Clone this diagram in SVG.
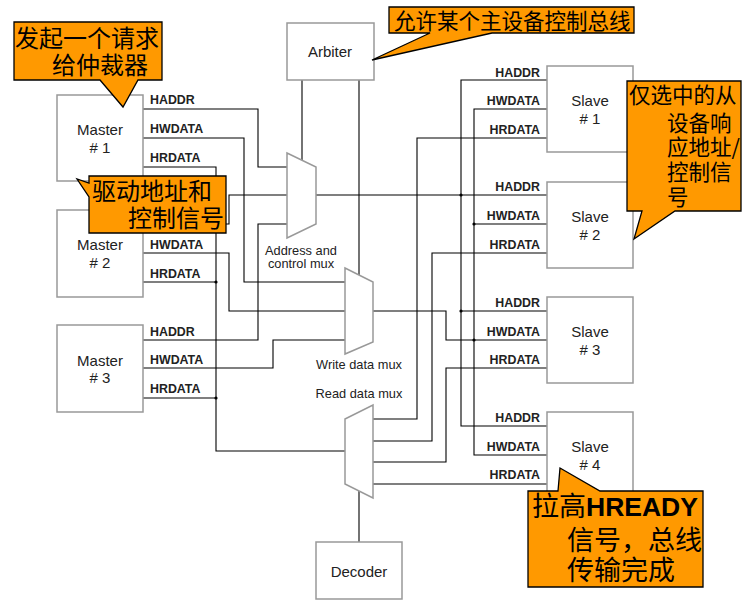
<svg xmlns="http://www.w3.org/2000/svg" width="752" height="615" viewBox="0 0 752 615">
<style>
.box{fill:#fff;stroke:#999;stroke-width:1.5}
.mux{fill:#fff;stroke:#999;stroke-width:1.5}
.w{fill:none;stroke:#000;stroke-width:1.1}
.lbl{font-family:"Liberation Sans",Arial,sans-serif;font-size:15px;fill:#222;text-anchor:middle}
.sig{font-family:"Liberation Sans",Arial,sans-serif;font-size:12.4px;font-weight:bold;fill:#222}
.sr{text-anchor:end}
.mx{font-family:"Liberation Sans",Arial,sans-serif;font-size:12.8px;fill:#222;text-anchor:middle}
.co{fill:#ff9900;stroke:#000;stroke-width:1.3}
.ct{font-family:"Noto Sans CJK SC",sans-serif;fill:#000}
</style>
<rect width="752" height="615" fill="#fff"/>
<g id="connectors">
<polyline class="w" points="143,109 258,109 258,167 287,167"/>
<polyline class="w" points="143,138 244,138 244,282 345,282"/>
<polyline class="w" points="143,167 216,167 216,451 345,451"/>
<polyline class="w" points="143,224 229,224 229,195 287,195"/>
<polyline class="w" points="143,253 229,253 229,311 345,311"/>
<line class="w" x1="143" y1="282" x2="216" y2="282"/>
<polyline class="w" points="143,340 258,340 258,224 287,224"/>
<polyline class="w" points="143,368 273,368 273,340 345,340"/>
<line class="w" x1="143" y1="398" x2="216" y2="398"/>
<line class="w" x1="302" y1="80" x2="302" y2="160"/>
<line class="w" x1="359" y1="80" x2="359" y2="275"/>
<line class="w" x1="316" y1="195" x2="547" y2="195"/>
<polyline class="w" points="373,311 446,311 446,340 547,340"/>
<line class="w" x1="359" y1="491" x2="359" y2="542"/>
<polyline class="w" points="547,138 417,138 417,419 373,419"/>
<polyline class="w" points="547,253 432,253 432,441 373,441"/>
<polyline class="w" points="547,368 446,368 446,462 373,462"/>
<line class="w" x1="373" y1="484" x2="547" y2="484"/>
<polyline class="w" points="547,80 461,80 461,426 547,426"/>
<line class="w" x1="461" y1="311" x2="547" y2="311"/>
<polyline class="w" points="547,109 474,109 474,455 547,455"/>
<line class="w" x1="474" y1="224" x2="547" y2="224"/>
<g fill="#000">
<circle cx="216" cy="282" r="1.6"/><circle cx="216" cy="398" r="1.6"/>
<circle cx="461" cy="195" r="1.6"/><circle cx="461" cy="311" r="1.6"/>
<circle cx="474" cy="224" r="1.6"/><circle cx="474" cy="340" r="1.6"/>
</g>
</g>
<g id="master1"><rect class="box" x="57" y="95" width="86" height="86"/><text class="lbl" x="100" y="135">Master</text><text class="lbl" x="100" y="153"># 1</text>
<text class="sig" x="150" y="104">HADDR</text><text class="sig" x="150" y="133">HWDATA</text><text class="sig" x="150" y="162">HRDATA</text></g>
<g id="master2"><rect class="box" x="57" y="210" width="86" height="87"/><text class="lbl" x="100" y="250">Master</text><text class="lbl" x="100" y="268"># 2</text>
<text class="sig" x="150" y="249">HWDATA</text><text class="sig" x="150" y="278">HRDATA</text></g>
<g id="master3"><rect class="box" x="57" y="325" width="86" height="87"/><text class="lbl" x="100" y="366">Master</text><text class="lbl" x="100" y="383"># 3</text>
<text class="sig" x="150" y="336">HADDR</text><text class="sig" x="150" y="364">HWDATA</text><text class="sig" x="150" y="393">HRDATA</text></g>
<g id="arbiter"><rect class="box" x="287" y="23" width="87" height="57"/><text class="lbl" x="330" y="57">Arbiter</text></g>
<g id="addrmux"><polygon class="mux" points="287,153 316,167 316,224 287,238"/><text class="mx" x="301" y="255">Address and</text><text class="mx" x="301" y="268">control mux</text></g>
<g id="wmux"><polygon class="mux" points="345,268 373,282 373,342 345,354"/><text class="mx" x="359" y="369">Write data mux</text></g>
<g id="rmux"><polygon class="mux" points="345,419 373,405 373,498 345,484"/><text class="mx" x="359" y="398">Read data mux</text></g>
<g id="decoder"><rect class="box" x="316" y="542" width="86" height="57"/><text class="lbl" x="359" y="577">Decoder</text></g>
<g id="slave1"><rect class="box" x="547" y="66" width="86" height="86"/><text class="lbl" x="590" y="106">Slave</text><text class="lbl" x="590" y="124"># 1</text>
<text class="sig sr" x="540" y="77">HADDR</text><text class="sig sr" x="540" y="105">HWDATA</text><text class="sig sr" x="540" y="134">HRDATA</text></g>
<g id="slave2"><rect class="box" x="547" y="182" width="86" height="86"/><text class="lbl" x="590" y="222">Slave</text><text class="lbl" x="590" y="240"># 2</text>
<text class="sig sr" x="540" y="191">HADDR</text><text class="sig sr" x="540" y="220">HWDATA</text><text class="sig sr" x="540" y="249">HRDATA</text></g>
<g id="slave3"><rect class="box" x="547" y="297" width="86" height="86"/><text class="lbl" x="590" y="337">Slave</text><text class="lbl" x="590" y="355"># 3</text>
<text class="sig sr" x="540" y="307">HADDR</text><text class="sig sr" x="540" y="336">HWDATA</text><text class="sig sr" x="540" y="364">HRDATA</text></g>
<g id="slave4"><rect class="box" x="547" y="412" width="86" height="86"/><text class="lbl" x="590" y="452">Slave</text><text class="lbl" x="590" y="470"># 4</text>
<text class="sig sr" x="540" y="422">HADDR</text><text class="sig sr" x="540" y="451">HWDATA</text><text class="sig sr" x="540" y="479">HRDATA</text></g>
<g id="callout1"><path class="co" d="M14,22 H162 V80 H138 L123,107 L100,80 H14 Z"/>
<text class="ct" font-size="24" x="15" y="47">发起一个请求</text><text class="ct" font-size="24" x="52" y="74">给仲裁器</text></g>
<g id="callout2"><path class="co" d="M89,176 H226 V233 H89 V197 L77,179 L89,183 Z"/>
<text class="ct" font-size="24" x="92" y="200">驱动地址和</text><text class="ct" font-size="24" x="128" y="227">控制信号</text></g>
<g id="callout3"><path class="co" d="M389,7 H634 V33 H492 L372,60 L430,33 H389 Z"/>
<text class="ct" font-size="21.5" x="394" y="29">允许某个主设备控制总线</text></g>
<g id="callout4"><path class="co" d="M627,81 H741 V211 H675 L634,239 L642,211 H627 Z"/>
<text class="ct" font-size="21.5" x="629" y="103">仅选中的从</text><text class="ct" font-size="21.5" x="667" y="131">设备响</text>
<text class="ct" font-size="21.5" x="667" y="155">应地址/</text><text class="ct" font-size="21.5" x="667" y="180">控制信</text><text class="ct" font-size="21.5" x="667" y="205">号</text></g>
<g id="callout5"><path class="co" d="M528,491 H558 L560,468 L600,491 H703 V587 H528 Z"/>
<text class="ct" font-size="27" x="532" y="516">拉高<tspan font-family="'Liberation Sans',Arial,sans-serif" font-weight="bold" font-size="26.5">HREADY</tspan></text>
<text class="ct" font-size="27" x="567" y="550">信号，总线</text><text class="ct" font-size="27" x="567" y="580">传输完成</text></g>
</svg>
